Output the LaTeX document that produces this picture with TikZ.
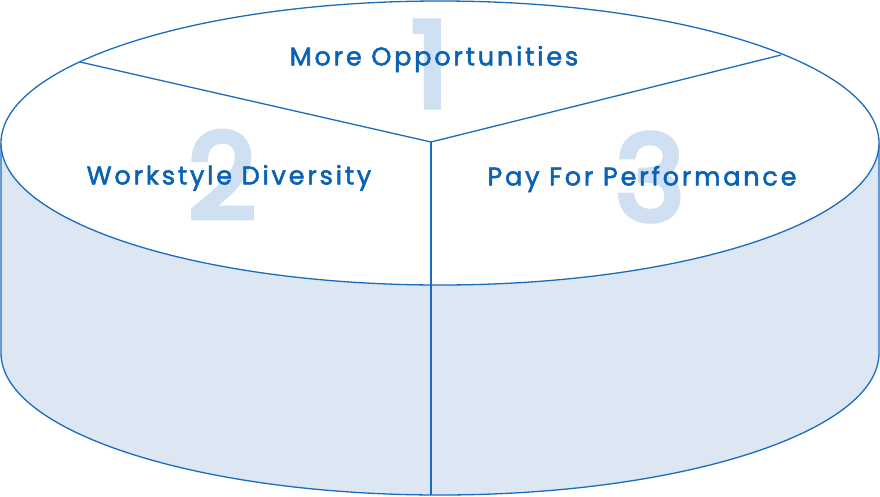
\documentclass[tikz,border=0pt]{standalone}
\usepackage{fontspec}
\setmainfont{Poppins}
\newfontfamily\labelfont{Poppins}[FakeBold=2,LetterSpace=11]
\newfontfamily\numfont{Poppins}[FakeBold=5]
\definecolor{lineblue}{HTML}{1A6CC0}
\definecolor{textblue}{HTML}{0A62B6}
\definecolor{numblue}{HTML}{CFE0F2}
\definecolor{sidefill}{HTML}{DCE7F3}
\begin{document}
\begin{tikzpicture}[x=1pt,y=-1pt,
  outline/.style={draw=lineblue,line width=1.3pt},
  label/.style={text=textblue,font=\labelfont\fontsize{25.5}{25.5}\selectfont},
  bignum/.style={text=numblue,font=\numfont\fontsize{118}{118}\selectfont}]
\useasboundingbox (0,0) rectangle (880,496);
% side
\fill[sidefill] (1,143) -- (1,353) arc[start angle=180,end angle=360,x radius=439,y radius=-142] -- (879,143) -- cycle;
\draw[outline] (1,143) -- (1,353) arc[start angle=180,end angle=360,x radius=439,y radius=-142] -- (879,143);
% top
\draw[outline,fill=white] (440,143) ellipse[x radius=439,y radius=142];
\coordinate (c) at (431,142);
\coordinate (l) at (80,62);
\coordinate (r) at (781,55);
\coordinate (b) at (431,495);
\draw[outline] (l) -- (c) -- (r);
\draw[outline] (c) -- (b);
% numbers
\node[bignum] (n1) at (430,64) {1};
\node[bignum] (n2) at (222,175) {2};
\node[bignum] (n3) at (650,177) {3};
% labels
\node[label] (t1) at (434,59) {More Opportunities};
\node[label] (t2) at (229,178) {Workstyle Diversity};
\node[label] (t3) at (642,179) {Pay For Performance};
\end{tikzpicture}
\end{document}
